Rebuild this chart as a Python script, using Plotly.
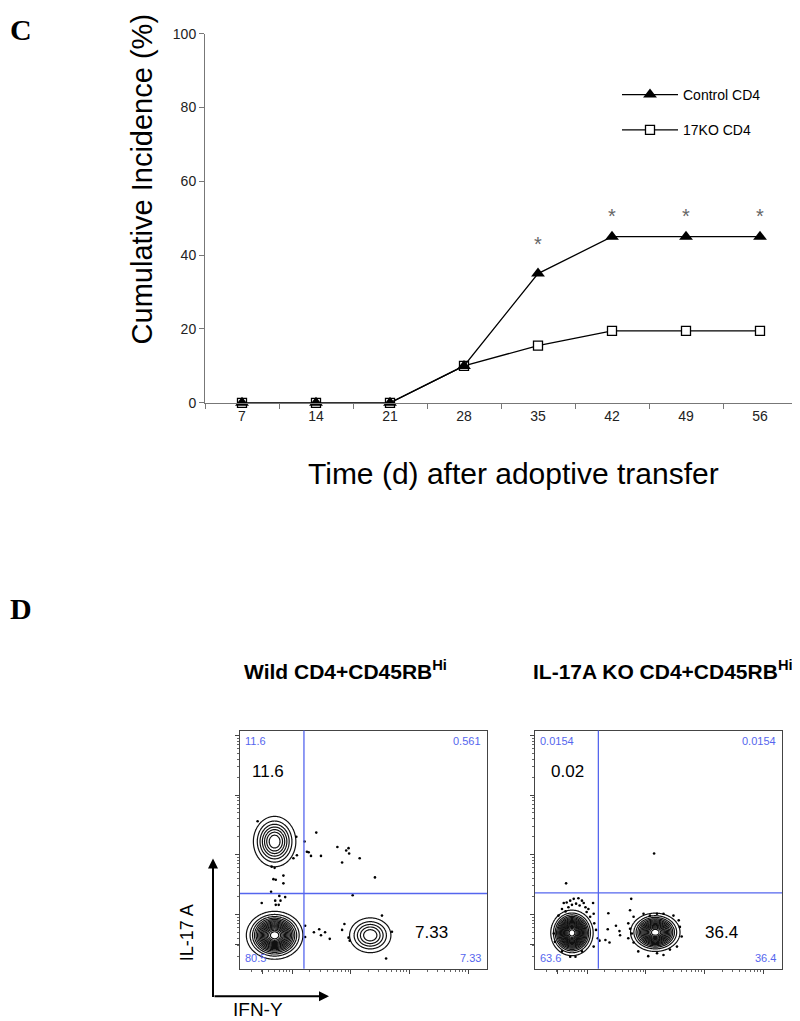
import numpy as np
import plotly.graph_objects as go

# page body has an 8px margin, so the figure is drawn 8px in from the corner
OFF = 8
W, H = 800 - OFF, 1021 - OFF
FONT = "Liberation Sans, Arial, sans-serif"
SERIF = "Liberation Serif, Times New Roman, serif"

# ---- panel C data ----
days = ["7", "14", "21", "28", "35", "42", "49", "56"]
control_cd4 = [0, 0, 0, 10, 35, 45, 45, 45]
ko17_cd4 = [0, 0, 0, 10, 15.5, 19.5, 19.5, 19.5]
star_days = ["35", "42", "49", "56"]
star_y = [43, 50.5, 50.5, 50.5]

# ---- panel D data (log10 fluorescence, IFN-Y on x, IL-17A on y) ----
# populations: centre, half-width of outer contour (decades), number of contour rings
wt_pop_x = [1.70, 1.70, 3.33]
wt_pop_y = [3.22, 1.65, 1.65]
wt_pop_wx = [0.36, 0.48, 0.35]
wt_pop_wy = [0.42, 0.40, 0.29]
wt_pop_rings = [7, 16, 5]

ko_pop_x = [1.74, 3.16]
ko_pop_y = [1.69, 1.70]
ko_pop_wx = [0.36, 0.42]
ko_pop_wy = [0.38, 0.32]
ko_pop_rings = [18, 15]

wt_dot_x = [1.41, 2.07, 2.02, 2.08, 1.65, 1.70, 1.68, 1.72, 1.85, 1.85, 1.64, 1.78, 1.48, 1.71,
            1.80, 1.88, 1.77, 1.72, 2.21, 2.25, 2.28, 2.32, 2.41, 2.49, 2.77, 2.85, 2.92, 2.96,
            2.97, 3.15, 3.41, 3.03, 3.53, 3.70, 3.60, 2.89, 2.85, 2.37, 2.46, 2.49, 2.56, 2.64,
            2.22, 2.22, 2.96, 2.98]
wt_dot_y = [3.56, 3.30, 2.94, 2.99, 2.80, 2.78, 2.59, 2.58, 2.65, 2.52, 2.38, 2.31, 2.19, 2.23,
            2.23, 2.29, 2.16, 2.16, 3.22, 3.05, 3.04, 2.98, 3.37, 2.98, 3.13, 2.87, 3.07, 3.11,
            3.02, 2.94, 2.62, 2.32, 1.98, 1.71, 1.26, 1.84, 1.74, 1.70, 1.75, 1.65, 1.70, 1.59,
            1.81, 1.62, 1.61, 1.56]

ko_dot_x = [1.64, 3.14, 2.75, 2.36, 2.49, 2.35, 2.55, 2.56, 2.21, 2.31, 2.38,
            1.60, 1.65, 1.71, 1.77, 1.85, 1.91, 1.94, 1.81, 1.87, 1.97, 2.02, 2.10, 1.57, 1.63,
            1.68, 1.74, 1.99, 2.11, 1.51, 2.05, 2.12, 2.15, 2.18, 1.43, 1.45, 1.57, 1.71, 1.80,
            1.91, 2.11,
            2.73, 2.79, 2.70, 2.73, 2.76, 2.70, 2.79, 2.87, 3.04, 3.19, 3.30, 3.41, 3.53, 3.61,
            3.58, 3.56, 3.47, 3.30, 3.19, 2.96, 3.07]
ko_dot_y = [2.52, 3.02, 2.26, 2.02, 1.81, 1.75, 1.72, 1.65, 1.56, 1.57, 1.53,
            2.19, 2.20, 2.23, 2.26, 2.27, 2.23, 2.19, 2.18, 2.15, 2.12, 2.09, 2.19, 2.09, 2.05,
            2.12, 2.16, 2.04, 2.01, 1.98, 1.96, 1.85, 1.74, 1.60, 1.68, 1.54, 1.38, 1.29, 1.29,
            1.38, 1.46,
            2.07, 1.96, 1.85, 1.76, 1.68, 1.60, 1.53, 1.38, 1.30, 1.35, 1.32, 1.41, 1.46, 1.63,
            1.79, 1.90, 1.98, 2.01, 2.01, 2.01, 1.98]

wt_quadrants = ["11.6", "0.561", "80.5", "7.33"]
ko_quadrants = ["0.0154", "0.0154", "63.6", "36.4"]
wt_big = ["11.6", "7.33"]
ko_big = ["0.02", "36.4"]
gate_x = [2.20, 2.19]
gate_y = [2.35, 2.36]


def px(x):
    return (x - OFF) / W


def py(y):
    return 1 - (y - OFF) / H


fig = go.Figure()

# ---- panel C ----
fig.add_trace(go.Scatter(
    x=days, y=ko17_cd4, name="17KO CD4", mode="lines+markers", legendrank=2,
    legendgroup="b",
    line=dict(color="black", width=1.3),
    marker=dict(symbol="square", size=9, color="white", line=dict(color="black", width=1.3)),
    cliponaxis=False,
))
fig.add_trace(go.Scatter(
    x=days, y=control_cd4, name="Control CD4", mode="lines+markers", legendrank=1,
    legendgroup="a",
    line=dict(color="black", width=1.3),
    marker=dict(symbol="triangle-up", size=12, color="black"),
    cliponaxis=False,
))

annotations = []
for d, v in zip(star_days, star_y):
    annotations.append(dict(x=days.index(d), y=v, xref="x", yref="y", text="*", showarrow=False,
                            xanchor="center", yanchor="middle",
                            font=dict(family=FONT, size=20, color="#666")))


def flow_panel(n, pop_x, pop_y, pop_wx, pop_wy, rings, dot_x, dot_y):
    xa, ya = "x%d" % n, "y%d" % n
    for cx, cy, wx, wy, k in zip(pop_x, pop_y, pop_wx, pop_wy, rings):
        sx = wx / np.sqrt(2 * np.log(k + 1))
        sy = wy / np.sqrt(2 * np.log(k + 1))
        gx = np.linspace(cx - 1.3 * wx, cx + 1.3 * wx, 100)
        gy = np.linspace(cy - 1.3 * wy, cy + 1.3 * wy, 100)
        X, Y = np.meshgrid(gx, gy)
        Z = np.exp(-((X - cx) ** 2 / (2 * sx ** 2) + (Y - cy) ** 2 / (2 * sy ** 2)))
        step = 1 / (k + 1)
        fig.add_trace(go.Contour(
            x=gx, y=gy, z=Z, xaxis=xa, yaxis=ya, showscale=False, hoverinfo="skip",
            contours=dict(coloring="lines", start=0.98 * step, end=k * step, size=step),
            colorscale=[[0, "#111"], [1, "#111"]],
            line=dict(width=1.2), showlegend=False,
        ))
    fig.add_trace(go.Scatter(
        x=dot_x, y=dot_y, xaxis=xa, yaxis=ya, mode="markers", showlegend=False,
        marker=dict(size=2.6, color="black"), hoverinfo="skip",
    ))


flow_panel(2, wt_pop_x, wt_pop_y, wt_pop_wx, wt_pop_wy, wt_pop_rings, wt_dot_x, wt_dot_y)
flow_panel(3, ko_pop_x, ko_pop_y, ko_pop_wx, ko_pop_wy, ko_pop_rings, ko_dot_x, ko_dot_y)

major = [1.5, 2, 3, 4, 5]
minor = [d + np.log10(m) for d in range(1, 6) for m in range(2, 10)]
minor = [round(float(v), 3) for v in minor if v < 5.3 and v not in major]

flow_axis = dict(showline=True, mirror=True, linecolor="#444", linewidth=1, showgrid=False,
                 zeroline=False, ticks="outside", ticklen=4, tickcolor="#444",
                 tickvals=major, showticklabels=False,
                 minor=dict(tickvals=minor, ticks="outside", ticklen=2, tickcolor="#666"))

shapes = []
for i, n in enumerate([2, 3]):
    shapes.append(dict(type="line", xref="x%d" % n, yref="y%d domain" % n,
                       x0=gate_x[i], x1=gate_x[i], y0=0, y1=1,
                       line=dict(color="#5566ee", width=1.3)))
    shapes.append(dict(type="line", xref="x%d domain" % n, yref="y%d" % n,
                       x0=0, x1=1, y0=gate_y[i], y1=gate_y[i],
                       line=dict(color="#5566ee", width=1.3)))

# quadrant percentages
for n, q in [(2, wt_quadrants), (3, ko_quadrants)]:
    pos = [(0.012, 0.988, "left", "top"), (0.985, 0.988, "right", "top"),
           (0.012, 0.01, "left", "bottom"), (0.985, 0.01, "right", "bottom")]
    for t, (x, y, xa, ya) in zip(q, pos):
        annotations.append(dict(x=x, y=y, xref="x%d domain" % n, yref="y%d domain" % n, text=t,
                                xanchor=xa, yanchor=ya, showarrow=False,
                                font=dict(family=FONT, size=11, color="#5566ee")))

for n, b in [(2, wt_big), (3, ko_big)]:
    annotations.append(dict(x=0.115 if n == 2 else 0.13, y=0.83, xref="x%d domain" % n,
                            yref="y%d domain" % n, text=b[0], showarrow=False,
                            xanchor="center", yanchor="middle",
                            font=dict(family=FONT, size=17, color="black")))
    annotations.append(dict(x=0.775 if n == 2 else 0.755, y=0.15, xref="x%d domain" % n,
                            yref="y%d domain" % n, text=b[1], showarrow=False,
                            xanchor="center", yanchor="middle",
                            font=dict(family=FONT, size=17, color="black")))

# titles / labels (paper coordinates)
paper_notes = [
    dict(x=0, y=py(22), text="<b>C</b>", xanchor="left",
         font=dict(family=SERIF, size=30, color="black")),
    dict(x=0, y=py(610), text="<b>D</b>", xanchor="left",
         font=dict(family=SERIF, size=30, color="black")),
    dict(x=px(142), y=py(174), text="Cumulative Incidence (%)", textangle=-90,
         font=dict(family=FONT, size=29, color="black")),
    dict(x=px(513), y=py(473), text="Time (d) after adoptive transfer",
         font=dict(family=FONT, size=30, color="black")),
    dict(x=px(345), y=py(673), text="<b>Wild CD4+CD45RB<sup>Hi</sup></b>",
         font=dict(family=FONT, size=21, color="black")),
    dict(x=px(663), y=py(673), text="<b>IL-17A KO CD4+CD45RB<sup>Hi</sup></b>",
         font=dict(family=FONT, size=21, color="black")),
    dict(x=px(187), y=py(940), text="IL-17 A", textangle=-90,
         font=dict(family=FONT, size=18, color="black")),
    dict(x=px(258), y=py(1017), text="IFN-Y",
         font=dict(family=FONT, size=19, color="black")),
]
for a in paper_notes:
    a.setdefault("xanchor", "center")
    a.update(xref="paper", yref="paper", showarrow=False, yanchor="middle")
    annotations.append(a)

annotations += [
    dict(x=px(213), y=py(864), ax=0, ay=140, xref="paper", yref="paper", showarrow=True,
         arrowhead=2, arrowsize=1, arrowwidth=2, arrowcolor="black", text=""),
    dict(x=px(329), y=py(1004), ax=-116, ay=0, xref="paper", yref="paper", showarrow=True,
         arrowhead=2, arrowsize=1, arrowwidth=2, arrowcolor="black", text=""),
]

fig.update_layout(
    width=W, height=H, margin=dict(l=0, r=0, t=0, b=0),
    paper_bgcolor="white", plot_bgcolor="white",
    font=dict(family=FONT, color="black"),
    xaxis=dict(domain=[px(205), px(797)], anchor="y", type="category", tickson="boundaries",
               range=[-0.5, 7.5], ticks="outside", ticklen=5, tickcolor="#777",
               showline=True, linecolor="#777", linewidth=1, showgrid=False, zeroline=False,
               tickfont=dict(size=14, color="#222")),
    yaxis=dict(domain=[py(401), py(26)], anchor="x", range=[0, 100], dtick=20,
               ticks="outside", ticklen=5, tickcolor="#777", showline=True, linecolor="#777",
               linewidth=1, showgrid=False, zeroline=False, tickfont=dict(size=14, color="#222")),
    xaxis2=dict(domain=[px(240), px(487)], anchor="y2", range=[1.11, 5.32], **flow_axis),
    yaxis2=dict(domain=[py(976), py(734)], anchor="x2", range=[1.09, 5.08], **flow_axis),
    xaxis3=dict(domain=[px(535), px(782)], anchor="y3", range=[1.11, 5.32], **flow_axis),
    yaxis3=dict(domain=[py(976), py(734)], anchor="x3", range=[1.09, 5.08], **flow_axis),
    legend=dict(x=px(617), y=py(72), xanchor="left", yanchor="top", bgcolor="rgba(0,0,0,0)",
                font=dict(family=FONT, size=14, color="black"), tracegroupgap=14,
                itemwidth=56, traceorder="grouped"),
    shapes=shapes,
    annotations=annotations,
)

fig.write_html("out.html")
